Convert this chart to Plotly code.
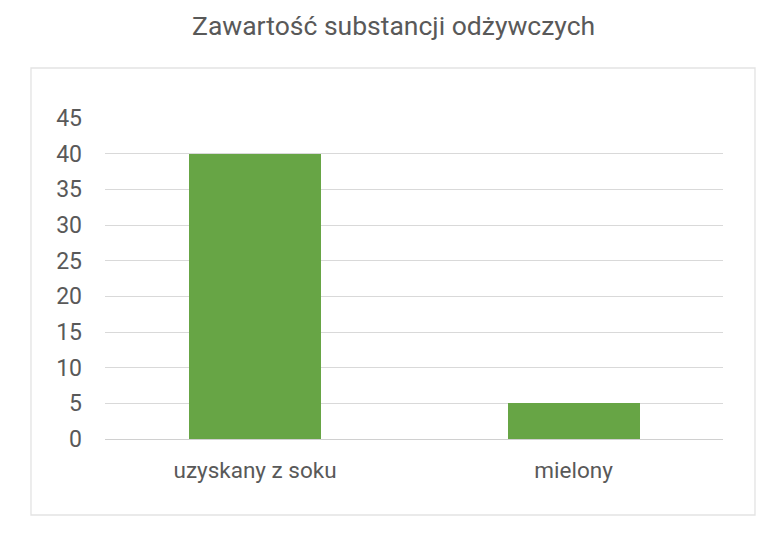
import plotly.graph_objects as go

categories = ["uzyskany z soku", "mielony"]
values = [40, 5]
y_ticks = [0, 5, 10, 15, 20, 25, 30, 35, 40, 45]
title_text = "Zawartość substancji odżywczych"

FONT = "Roboto, Liberation Sans, sans-serif"
TXT = "#595959"

# page body has an 8px margin, so the figure is 8px smaller and coordinates are offset
W, H = 760, 529
L, R, T, B = 97, 45, 110, 98
plot_w = W - L - R
plot_h = H - T - B

fig = go.Figure(
    go.Bar(
        x=list(range(len(categories))),
        y=values,
        width=0.415,
        marker=dict(color="#67A545", line=dict(width=0)),
        hoverinfo="skip",
    )
)

shapes = [
    # outer chart border
    dict(type="rect", xref="paper", yref="paper",
         xsizemode="pixel", ysizemode="pixel", xanchor=0, yanchor=0,
         x0=-74, x1=650, y0=-76, y1=371,
         line=dict(color="#E3E3E3", width=1.3), fillcolor="rgba(0,0,0,0)", layer="below"),
    # category boundary tick marks
    dict(type="line", xref="x", yref="y", ysizemode="pixel", yanchor=0,
         x0=0.5, x1=0.5, y0=0, y1=-14, line=dict(color="#D0D0D0", width=1.3)),
    dict(type="line", xref="paper", yref="y", ysizemode="pixel", yanchor=0,
         x0=1, x1=1, y0=0, y1=-14, line=dict(color="#D0D0D0", width=1.3)),
]

fig.update_layout(
    width=W, height=H,
    margin=dict(l=L, r=R, t=T, b=B, pad=0),
    paper_bgcolor="white", plot_bgcolor="white",
    showlegend=False,
    bargap=0,
    font=dict(family=FONT, color=TXT),
    shapes=shapes,
    annotations=[dict(
        text=title_text, xref="paper", yref="paper",
        x=(385 - L) / plot_w, y=1 + (T - 17) / plot_h,
        xanchor="center", yanchor="middle", showarrow=False,
        font=dict(family=FONT, size=26.5, color=TXT),
    )],
    xaxis=dict(
        range=[-0.471, 1.469],
        tickmode="array",
        tickvals=list(range(len(categories))),
        ticktext=categories,
        showgrid=False, zeroline=False,
        showline=False, ticks="",
        tickfont=dict(family=FONT, size=22.5, color=TXT),
        ticklabelstandoff=15,
        fixedrange=True,
    ),
    yaxis=dict(
        range=[0, 45],
        tickmode="array",
        tickvals=y_ticks,
        ticktext=[str(v) for v in y_ticks],
        showgrid=True, gridcolor="#D9D9D9", gridwidth=1.3,
        zeroline=True, zerolinecolor="#D0D0D0", zerolinewidth=1.3,
        showline=False, ticks="",
        tickfont=dict(family=FONT, size=23, color=TXT),
        ticklabelstandoff=22,
        fixedrange=True,
    ),
)

fig.write_html("out.html")
